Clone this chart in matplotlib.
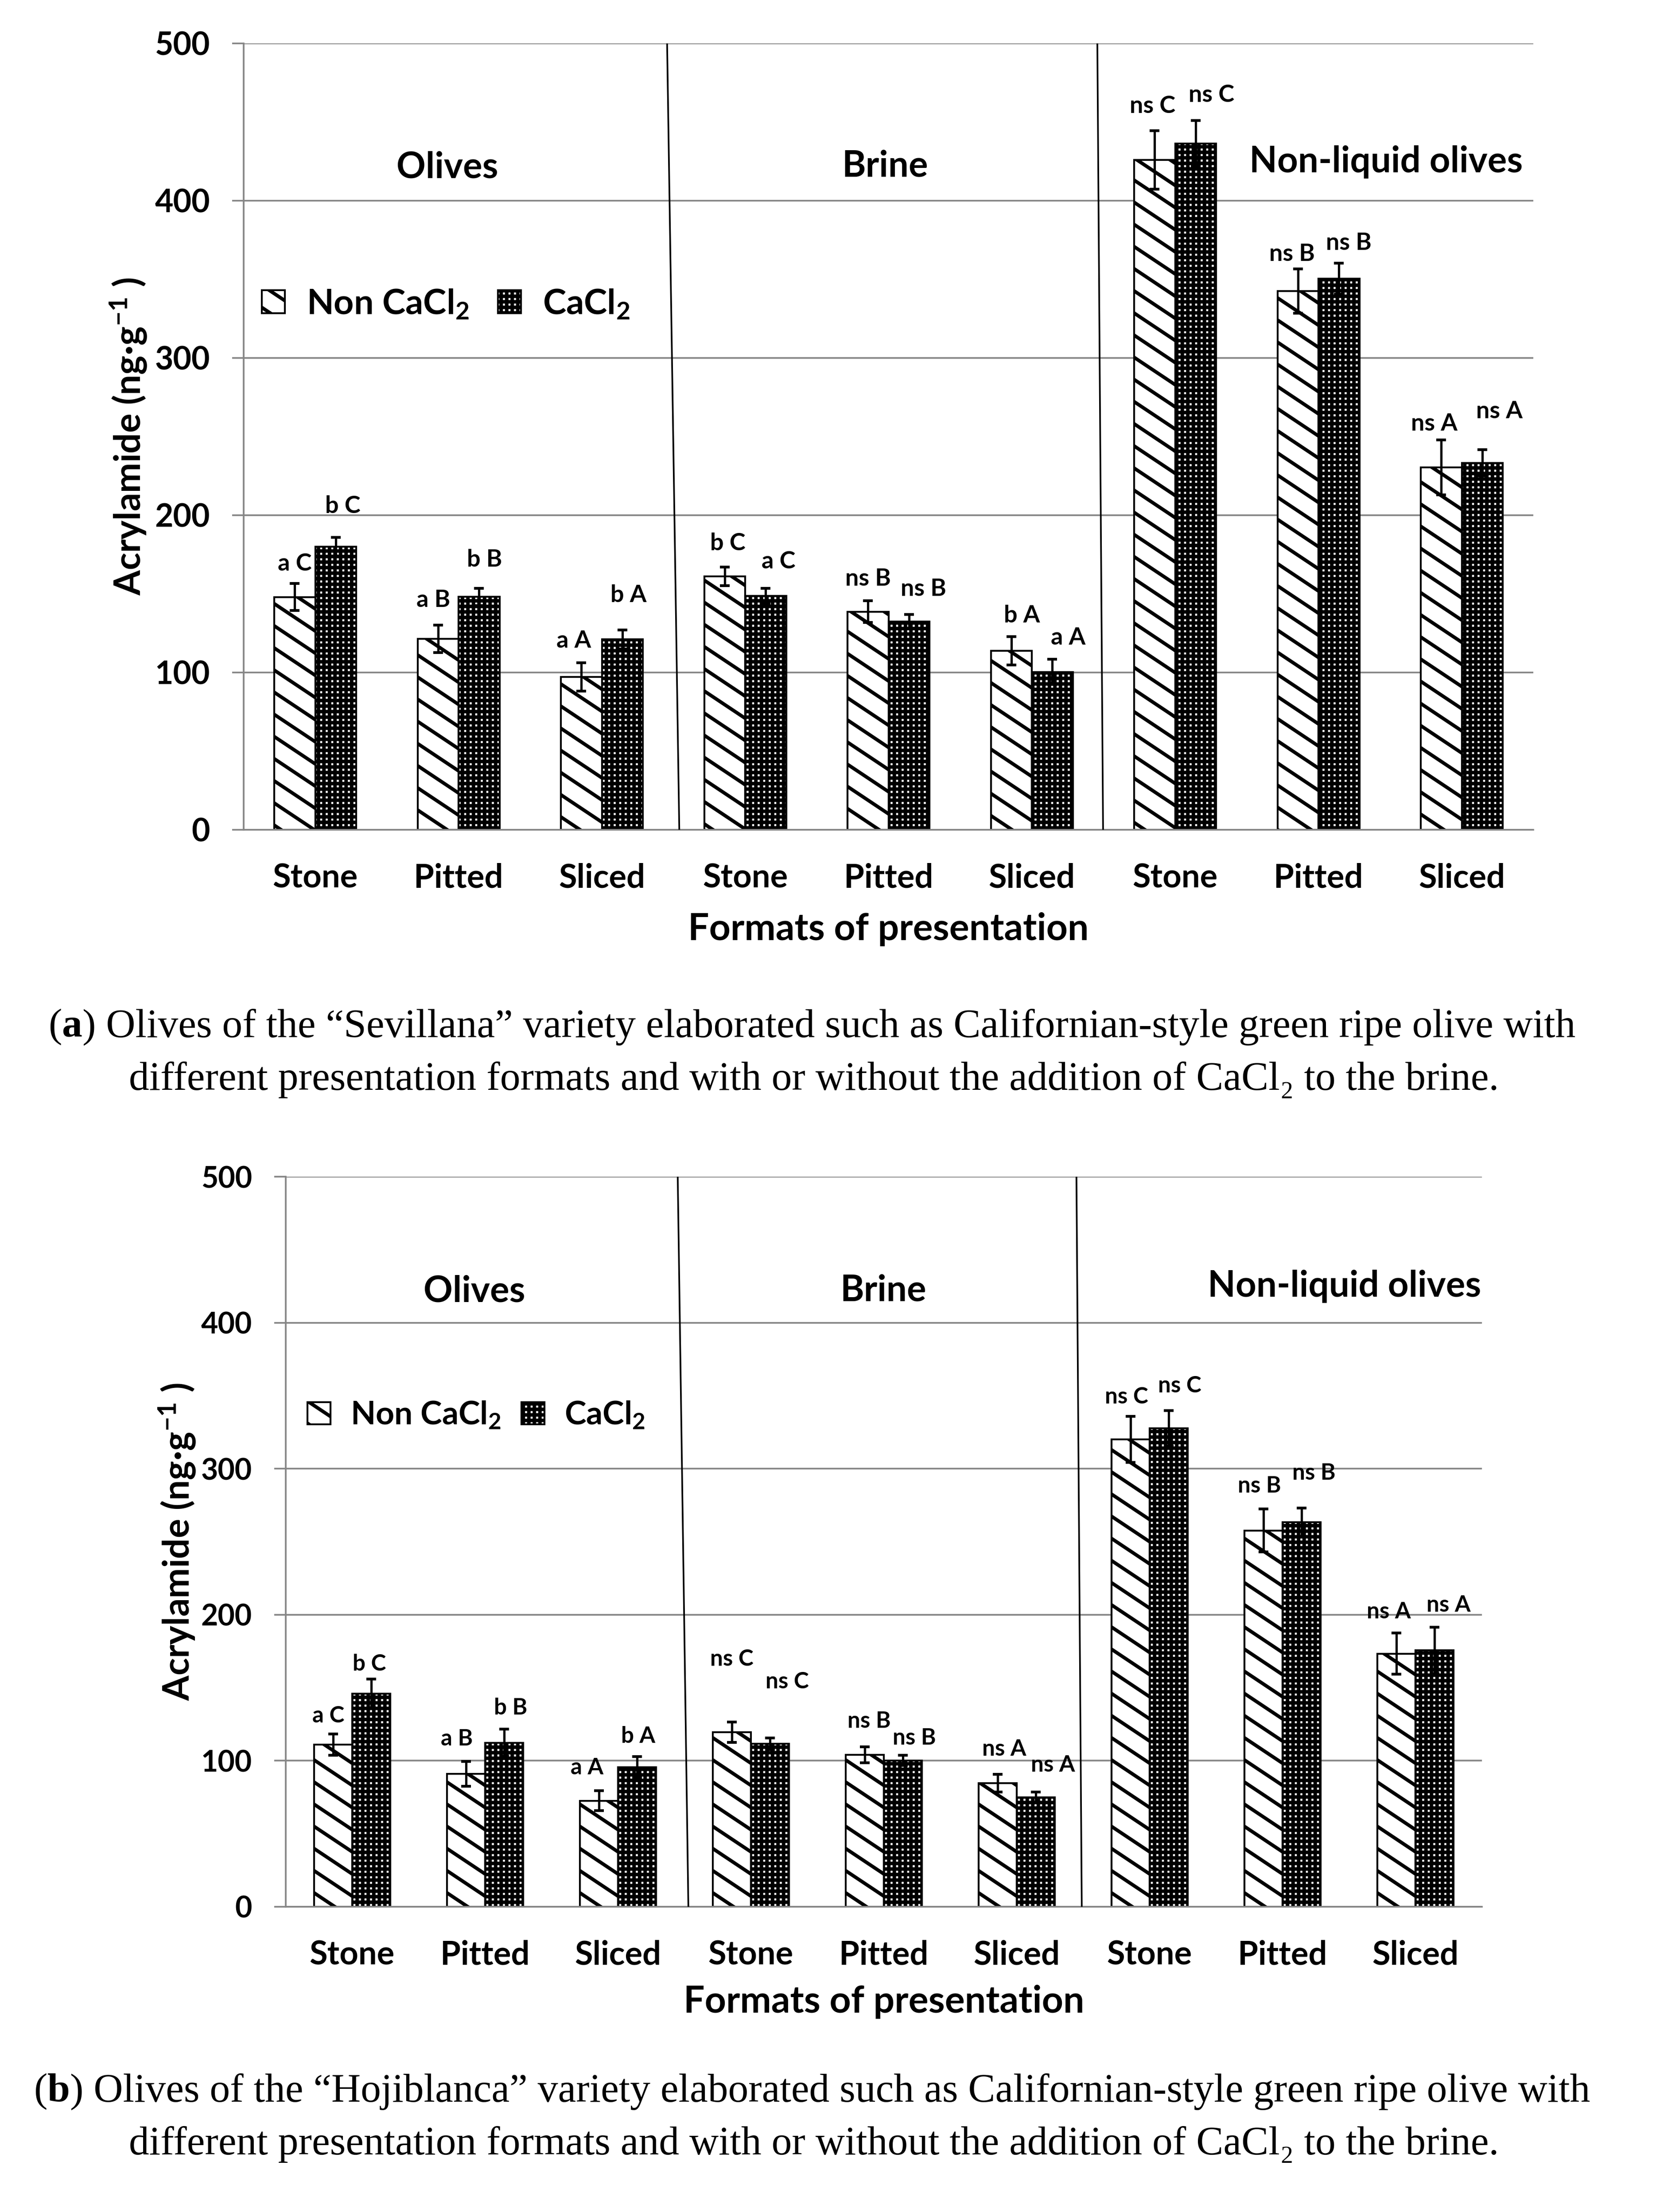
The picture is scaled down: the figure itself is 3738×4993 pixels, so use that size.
import numpy as np
import matplotlib
matplotlib.use('Agg')
import matplotlib.pyplot as plt
import matplotlib.hatch as mhatch
from matplotlib.path import Path

plt.rcParams['font.family'] = ['Lato', 'DejaVu Sans']
plt.rcParams['font.weight'] = 'bold'
plt.rcParams['mathtext.fontset'] = 'custom'
plt.rcParams['mathtext.rm'] = 'Lato:bold'
plt.rcParams['mathtext.bf'] = 'Lato:bold'
plt.rcParams['mathtext.it'] = 'Lato:bold'
plt.rcParams['mathtext.default'] = 'bf'
plt.rcParams['hatch.linewidth'] = 1.9

W, H, DPI = 3738, 4993, 300
GRID = '#868686'

# categories
formats = ['Stone', 'Pitted', 'Sliced'] * 3
groups = ['Olives', 'Brine', 'Non-liquid olives']
series = ['Non CaCl$_2$', 'CaCl$_2$']

# (a) "Sevillana" variety
a_non = [147.9, 121.3, 97.0, 161.0, 138.6, 113.6, 425.9, 342.5, 230.4]
a_non_err = [8.7, 8.7, 9.0, 6.0, 7.0, 9.0, 18.6, 14.0, 17.5]
a_ca = [179.9, 148.0, 120.9, 148.5, 132.4, 100.2, 436.4, 350.4, 233.2]
a_ca_err = [6.0, 5.5, 6.0, 5.0, 4.5, 8.0, 14.4, 9.8, 8.3]
a_non_lab = ['a C', 'a B', 'a A', 'b C', 'ns B', 'b A', 'ns C', 'ns B', 'ns A']
a_ca_lab = ['b C', 'b B', 'b A', 'a C', 'ns B', 'a A', 'ns C', 'ns B', 'ns A']

# (b) "Hojiblanca" variety
b_non = [111.1, 91.0, 72.6, 119.6, 104.0, 84.7, 320.2, 257.7, 173.3]
b_non_err = [7.3, 8.5, 6.8, 7.0, 5.5, 6.0, 15.7, 14.7, 14.1]
b_ca = [146.1, 112.4, 95.5, 111.7, 100.2, 75.0, 327.8, 263.4, 175.6]
b_ca_err = [10.0, 9.3, 7.3, 4.0, 3.5, 3.5, 12.1, 9.8, 16.0]
b_non_lab = ['a C', 'a B', 'a A', 'ns C', 'ns B', 'ns A', 'ns C', 'ns B', 'ns A']
b_ca_lab = ['b C', 'b B', 'b A', 'ns C', 'ns B', 'ns A', 'ns C', 'ns B', 'ns A']

# label placement (x shift in category units, y in data units)
a_non_lab_dx = [0.0, -0.034, -0.053, 0.02, 0.0, 0.074, -0.015, -0.043, -0.05]
a_non_lab_y = [169, 146, 120, 182, 159.6, 136, 460, 366, 258]
a_ca_lab_dx = [0.05, 0.037, 0.043, 0.09, 0.1, 0.11, 0.11, 0.068, 0.12]
a_ca_lab_y = [205.6, 171.7, 149, 170.5, 153, 122, 467, 373, 266]

b_non_lab_dx = [-0.035, -0.07, -0.088, 0.0, 0.034, 0.05, -0.03, -0.03, -0.058]
b_non_lab_y = [130.5, 115, 95, 169.6, 127, 107.8, 349.2, 288, 202]
b_ca_lab_dx = [-0.013, 0.05, 0.01, 0.13, 0.087, 0.13, 0.083, 0.094, 0.106]
b_ca_lab_y = [166, 136, 116.6, 154, 115.6, 97, 356.8, 296.8, 206.5]

cap_a = [("(", "normal"), ("a", "bold"),
         (") Olives of the \u201cSevillana\u201d variety elaborated such as "
          "Californian-style green ripe olive with", "normal")]
cap_b = [("(", "normal"), ("b", "bold"),
         (") Olives of the \u201cHojiblanca\u201d variety elaborated such as "
          "Californian-style green ripe olive with", "normal")]
cap_line2 = [("different presentation formats and with or without the addition "
              "of CaCl\u2082 to the brine.", "normal")]


# Excel-like "wide downward diagonal": shallower than the stock 45 degree '\' hatch
class ShallowSouthEast(mhatch.HatchPatternBase):
    slope = 2 / 3

    def __init__(self, hatch, density):
        self.n = int(hatch.count('\\') * density)
        self.num_lines = int(round(self.n * (1 + self.slope))) + 3 if self.n else 0
        self.num_vertices = self.num_lines * 2

    def set_vertices_and_codes(self, vertices, codes):
        c = (np.arange(self.num_lines) - 1) / self.n
        vertices[0::2, 0] = -0.5
        vertices[0::2, 1] = c + 0.5 * self.slope
        vertices[1::2, 0] = 1.5
        vertices[1::2, 1] = c - 1.5 * self.slope
        codes[0::2] = Path.MOVETO
        codes[1::2] = Path.LINETO


mhatch._hatch_types[mhatch._hatch_types.index(mhatch.SouthEastHatch)] = ShallowSouthEast


def panel(ax, non, non_err, ca, ca_err, non_lab, ca_lab,
          non_dx, non_y, ca_dx, ca_y, title_pos, leg_anchor, leg_fs, leg_gap,
          ytick_fs, lab_fs, tilts, ylab_x, xlab_y):
    x = np.arange(len(formats))
    w = 1 / 3.5
    b1 = ax.bar(x - w / 2, non, w, color='white', edgecolor='black', linewidth=1.0,
                hatch='\\', zorder=2, label=series[0])
    b2 = ax.bar(x + w / 2, ca, w, color='white', edgecolor='black', linewidth=1.0,
                hatch='++++', zorder=2, label=series[1])
    ax.errorbar(x - w / 2, non, yerr=non_err, fmt='none', ecolor='black',
                elinewidth=1.25, capsize=2.6, capthick=1.5, zorder=3)
    ax.errorbar(x + w / 2, ca, yerr=ca_err, fmt='none', ecolor='black',
                elinewidth=1.25, capsize=2.6, capthick=1.5, zorder=3)

    for i in range(len(x)):
        ax.text(x[i] - w / 2 + non_dx[i], non_y[i], non_lab[i], ha='center',
                va='center', fontsize=lab_fs)
        ax.text(x[i] + w / 2 + ca_dx[i], ca_y[i], ca_lab[i], ha='center',
                va='center', fontsize=lab_fs)

    for g, (tx, ty) in zip(groups, title_pos):
        ax.text(tx, ty, g, ha='center', va='center', fontsize=19.6)

    # slanted separators between the three groups
    for k, (t_top, t_bot) in zip([2.5, 5.5], tilts):
        ax.plot([k + t_top, k + t_bot], [500, 0], color='black', lw=0.9, zorder=4)

    ax.set_xlim(-0.5, 8.5)
    ax.set_ylim(0, 500)
    ax.set_yticks(range(0, 501, 100))
    ax.set_xticks(x, formats)
    ax.yaxis.grid(True, color=GRID, lw=0.9)
    ax.set_axisbelow(True)
    for s in ['top', 'right']:
        ax.spines[s].set_visible(False)
    for s in ['left', 'bottom']:
        ax.spines[s].set_color(GRID)
        ax.spines[s].set_linewidth(0.9)
    ax.tick_params(axis='y', length=6.2, width=0.9, color=GRID, pad=12, labelsize=ytick_fs)
    ax.tick_params(axis='x', length=0, pad=18, labelsize=17.8)

    hl = 52 / (leg_fs * DPI / 72)
    ax.legend(handles=[b1, b2], loc='center left', bbox_to_anchor=leg_anchor, ncol=2,
              frameon=False, fontsize=leg_fs, handlelength=hl, handleheight=hl * 0.96,
              handletextpad=0.62, columnspacing=leg_gap, borderpad=0, borderaxespad=0)

    ax.text(ylab_x, 0.5, 'Acrylamide (ng\u00b7g$^{-1}$ )', transform=ax.transAxes,
            rotation=90, ha='center', va='center', fontsize=19.6)
    ax.text(0.5, xlab_y, 'Formats of presentation', transform=ax.transAxes,
            ha='center', va='center', fontsize=20.2)


def rich_line(fig, parts, xc, y, size):
    r = fig.canvas.get_renderer()
    texts = [fig.text(0, y, s, fontsize=size, fontweight=wt, va='center',
                      family=['Liberation Serif', 'DejaVu Serif']) for s, wt in parts]
    widths = [t.get_window_extent(r).width for t in texts]
    xx = xc * W - sum(widths) / 2
    for t, wd in zip(texts, widths):
        t.set_x(xx / W)
        xx += wd


fig = plt.figure(figsize=(W / DPI, H / DPI), dpi=DPI)
ax1 = fig.add_axes([0.1471, 0.62497, 0.7789, 0.35544])
ax2 = fig.add_axes([0.1725, 0.13800, 0.72231, 0.32998])

panel(ax1, a_non, a_non_err, a_ca, a_ca_err, a_non_lab, a_ca_lab,
      a_non_lab_dx, a_non_lab_y, a_ca_lab_dx, a_ca_lab_y,
      [(0.922, 421), (3.976, 422), (7.47, 424.6)], (0.0141, 0.6686), 19, 0.82,
      17.2, 13, [(-0.045, 0.04), (-0.043, -0.003)], -0.0893, -0.127)
panel(ax2, b_non, b_non_err, b_ca, b_ca_err, b_non_lab, b_ca_lab,
      b_non_lab_dx, b_non_lab_y, b_ca_lab_dx, b_ca_lab_y,
      [(0.92, 421.6), (3.997, 422), (7.467, 425)], (0.0181, 0.6734), 17.6, 0.62,
      15.9, 12.3, [(-0.05, 0.03), (-0.05, -0.01)], -0.0907, -0.1305)

rich_line(fig, cap_a, 1833 / W, 1 - 2318 / H, 22)
rich_line(fig, cap_line2, 1837 / W, 1 - 2438 / H, 22)
rich_line(fig, cap_b, 1833 / W, 1 - 4721 / H, 22)
rich_line(fig, cap_line2, 1837 / W, 1 - 4841 / H, 22)

fig.savefig('out.png', dpi=DPI)
